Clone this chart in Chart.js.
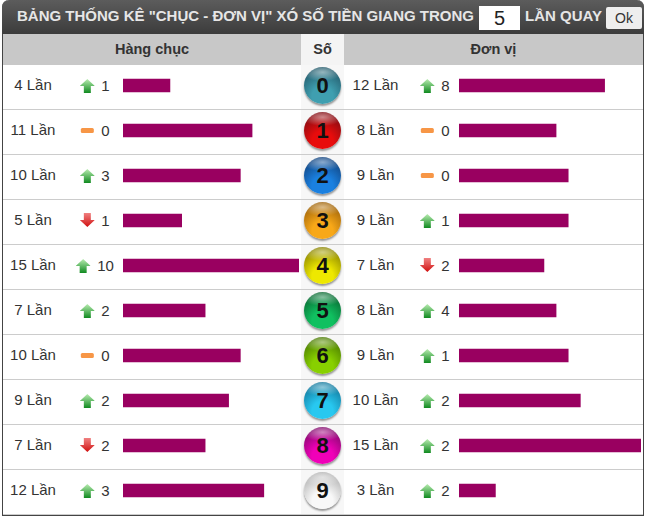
<!DOCTYPE html>
<html lang="vi">
<head>
<meta charset="utf-8">
<title>Bảng thống kê</title>
<script src="https://cdn.jsdelivr.net/npm/chart.js@4"></script>
<style>
  html, body { margin: 0; padding: 0; background: #fff; }
  body { width: 645px; height: 520px; position: relative; overflow: hidden; font-family: "Liberation Sans", Arial, sans-serif; color: #333; }
  .khung { position: absolute; left: 2px; top: 0; width: 642px; height: 516px; box-sizing: border-box; border: 1px solid #444; border-top: 0; border-bottom: 2px solid #444; border-radius: 7px 7px 0 0; }
  .tieude { position: absolute; left: 2px; top: 0; width: 642px; height: 34px; background: linear-gradient(#5c5c5c, #3c3c3c); border-radius: 7px 7px 0 0; color: #e6e6e6; font-weight: bold; font-size: 15px; line-height: 34px; white-space: nowrap; }
  .tieude span { position: absolute; top: -1px; }
  .o5 { position: absolute; left: 477px; top: 6px; width: 41px; height: 24px; background: #fff; color: #222; text-align: center; font-weight: normal; font-size: 20px; line-height: 24px; }
  .ok { position: absolute; left: 604px; top: 7px; width: 36px; height: 22px; background: #eee; color: #333; border-radius: 2px; text-align: center; font-weight: normal; font-size: 14px; line-height: 22px; }
  .dau { position: absolute; top: 34px; height: 31px; line-height: 30px; background: #c8c8c8; text-align: center; font-weight: bold; font-size: 14.5px; color: #333; }
  .cotso { position: absolute; left: 301px; top: 34px; width: 43px; height: 481px; background: #f7f7f7; }
  .hang { position: absolute; left: 3px; width: 640px; height: 45px; box-sizing: border-box; border-bottom: 1px solid #ccc; }
  .lan, .xu { position: absolute; height: 41px; line-height: 39px; font-size: 15px; white-space: nowrap; text-align: center; transform: translateX(-50%); }
  .xu { display: flex; align-items: center; gap: 7px; height: 41px; }
  .bi { position: absolute; left: 304px; width: 37px; height: 37px; border-radius: 50%; text-align: center; font-weight: bold; font-size: 22px; line-height: 37px; color: #111; box-shadow: 0 2px 2px rgba(0,0,0,.4); }
  canvas { position: absolute; }
</style>
</head>
<body>
<div class="khung"></div>
<div class="cotso"></div>
<div class="tieude">
  <span style="left:15px">BẢNG THỐNG KÊ "CHỤC - ĐƠN VỊ" XÓ SỐ TIỀN GIANG TRONG</span>
  <div class="o5">5</div>
  <span style="left:523px">LẦN QUAY</span>
  <div class="ok">Ok</div>
</div>
<div class="dau" style="left:3px;width:298px">Hàng chục</div>
<div class="dau" style="left:301px;width:43px;background:#f4f4f4">Số</div>
<div class="dau" style="left:344px;width:299px">Đơn vị</div>
<div id="bang"></div>
<canvas id="chartChuc" style="left:123px;top:63px"></canvas>
<canvas id="chartDonVi" style="left:459px;top:63px"></canvas>

<script>
// Dữ liệu đọc từ bảng
const so = ['0', '1', '2', '3', '4', '5', '6', '7', '8', '9'];
const hangChuc = [4, 11, 10, 5, 15, 7, 10, 9, 7, 12];
const donVi = [12, 8, 9, 9, 7, 8, 9, 10, 15, 3];
const chucDoi = [1, 0, 3, 1, 10, 2, 0, 2, 2, 3];
const chucHuong = ['up', 'flat', 'up', 'down', 'up', 'up', 'flat', 'up', 'down', 'up'];
const donViDoi = [8, 0, 0, 1, 2, 4, 1, 2, 2, 2];
const donViHuong = ['up', 'flat', 'flat', 'up', 'down', 'up', 'up', 'up', 'up', 'up'];
const mauBi = ['#3f9fb0', '#e80c0c', '#1a80e0', '#f8a818', '#eee800', '#10c060', '#88d000', '#28c8f0', '#f000b8', '#f8f8f8'];
const mauBiToi = ['#1f4f60', '#700c14', '#103a70', '#905808', '#7a7400', '#085a2a', '#3f6c00', '#106c90', '#700c60', '#a8a8a8'];
const mauCot = '#990060';

const iconHuong = {
  up: '<svg width="15" height="15" viewBox="0 0 15 15"><defs><linearGradient id="gu" x1="0" y1="0" x2="0" y2="1"><stop offset="0" stop-color="#b8ecb0"/><stop offset="1" stop-color="#108a20"/></linearGradient></defs><path d="M7.5 1 L15 8 H11 V15 H4 V8 H0 Z" fill="url(#gu)"/></svg>',
  down: '<svg width="15" height="15" viewBox="0 0 15 15"><defs><linearGradient id="gd" x1="0" y1="0" x2="0" y2="1"><stop offset="0" stop-color="#f08080"/><stop offset="1" stop-color="#d01010"/></linearGradient></defs><path d="M7.5 14 L15 7 H11 V0 H4 V7 H0 Z" fill="url(#gd)"/></svg>',
  flat: '<svg width="15" height="15" viewBox="0 0 15 15"><rect x="1" y="5" width="13" height="5" rx="1.5" fill="#f79646"/></svg>'
};

// Dựng các hàng chữ và viên bi
const bang = document.getElementById('bang');
so.forEach(function(s, i) {
  const top = 65 + 45 * i;
  let html = '<div class="hang" style="top:' + top + 'px"></div>';
  html += '<div class="lan" style="left:33px;top:' + top + 'px">' + hangChuc[i] + ' Lần</div>';
  html += '<div class="xu" style="left:94.5px;top:' + top + 'px">' + iconHuong[chucHuong[i]] + '<span>' + chucDoi[i] + '</span></div>';
  html += '<div class="bi" style="top:' + (top + 2) + 'px;background:radial-gradient(ellipse 55% 24% at 50% 14%, rgba(255,255,255,.5), rgba(255,255,255,0) 100%),radial-gradient(circle at 50% 80%, ' + mauBi[i] + ' 30%, ' + mauBiToi[i] + ' 92%)">' + s + '</div>';
  html += '<div class="lan" style="left:375.5px;top:' + top + 'px">' + donVi[i] + ' Lần</div>';
  html += '<div class="xu" style="left:434.5px;top:' + top + 'px">' + iconHuong[donViHuong[i]] + '<span>' + donViDoi[i] + '</span></div>';
  bang.insertAdjacentHTML('beforeend', html);
});

function veCot(id, rong, giaTri) {
  const canvas = document.getElementById(id);
  canvas.width = rong;
  canvas.height = 450;
  new Chart(canvas.getContext('2d'), {
    type: 'bar',
    data: {
      labels: so,
      datasets: [{
        data: giaTri,
        backgroundColor: mauCot,
        barThickness: 13
      }]
    },
    options: {
      indexAxis: 'y',
      responsive: false,
      animation: false,
      layout: { padding: 0 },
      plugins: { legend: { display: false }, tooltip: { enabled: false } },
      scales: {
        x: { display: false, min: 0, max: 15 },
        y: { display: false }
      }
    }
  });
}

veCot('chartChuc', 176, hangChuc);
veCot('chartDonVi', 182, donVi);
</script>
</body>
</html>
